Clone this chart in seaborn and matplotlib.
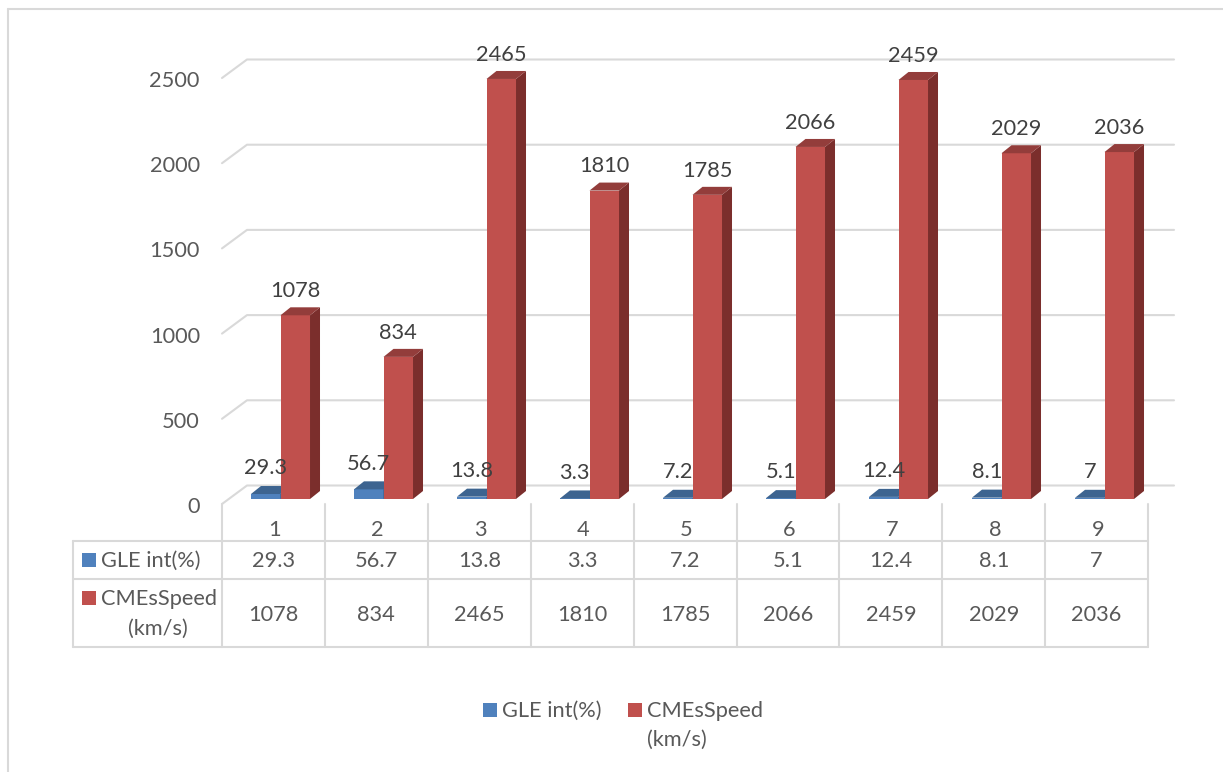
import matplotlib
matplotlib.use('Agg')
import matplotlib.pyplot as plt
import pandas as pd
import seaborn as sns
from matplotlib.lines import Line2D
from matplotlib.patches import Polygon, Rectangle
from matplotlib.transforms import Affine2D

casos = ['1', '2', '3', '4', '5', '6', '7', '8', '9']
gle_int = [29.3, 56.7, 13.8, 3.3, 7.2, 5.1, 12.4, 8.1, 7]
cme_speed = [1078, 834, 2465, 1810, 1785, 2066, 2459, 2029, 2036]
gle_txt = ['29.3', '56.7', '13.8', '3.3', '7.2', '5.1', '12.4', '8.1', '7']
yticks = [0, 500, 1000, 1500, 2000, 2500]

AZUL, AZUL_TOPO, AZUL_LADO = '#4F81BD', '#3D6490', '#355A85'
VERM, VERM_TOPO, VERM_LADO = '#C0504D', '#933D3B', '#7B2E2C'
CINZA = '#D9D9D9'
TXT = '#595959'
TXT_DADOS = '#404040'
FS = 15.7

W, H = 1223, 772
CAT = 103.0
ESC = 0.1704  # pixels por unidade no eixo y

sns.set_theme(style='white')
plt.rcParams['font.family'] = ['Lato', 'DejaVu Sans']
plt.rcParams['font.size'] = FS


def fx(x):
    return x / W


def fy(y):
    return 1 - y / H


def linha(x0, y0, x1, y1):
    fig.add_artist(Line2D([fx(x0), fx(x1)], [fy(y0), fy(y1)], color=CINZA, lw=1.5))


df = pd.DataFrame({
    'caso': casos * 2,
    'valor': gle_int + cme_speed,
    'serie': ['GLE int(%)'] * 9 + ['CMEsSpeed (km/s)'] * 9,
})

fig = plt.figure(figsize=(W / 100, H / 100), dpi=100)
# eixo: categorias de 229 a 1156 px, zero em 499 px, 2500 em 73 px
ax = fig.add_axes([fx(229), fy(499), 9 * CAT / W, 2500 * ESC / H])
sns.barplot(data=df, x='caso', y='valor', hue='serie', order=casos,
            palette=[AZUL, VERM], width=0.573, gap=0, dodge=True,
            saturation=1, legend=False, linewidth=0, ax=ax)
ax.set_xlim(-0.5, 8.5)
ax.set_ylim(0, 2500)
ax.set_xlabel('')
ax.set_ylabel('')
ax.patch.set_alpha(0)
for s in ax.spines.values():
    s.set_visible(False)

# faces laterais e de topo das barras (efeito 3D)
prof_x = 10 / CAT
prof_y = 8 / ESC
cores = [(AZUL_TOPO, AZUL_LADO), (VERM_TOPO, VERM_LADO)]
for n, cont in enumerate(ax.containers):
    topo, lado = cores[n]
    for b in cont:
        x0, x1, v = b.get_x(), b.get_x() + b.get_width(), b.get_height()
        b.set_edgecolor('none')
        b.set_zorder(3 + n)
        ax.add_patch(Polygon([(x1, 0), (x1 + prof_x, prof_y), (x1 + prof_x, v + prof_y), (x1, v)],
                             fc=lado, ec='none', clip_on=False, zorder=3 + n))
        ax.add_patch(Polygon([(x0, v), (x0 + prof_x, v + prof_y), (x1 + prof_x, v + prof_y), (x1, v)],
                             fc=topo, ec='none', clip_on=False, zorder=3 + n))

# paredes do fundo
for v in yticks:
    pts = ax.transData.transform([(-0.5, v), (8.5, v)])
    xa, ya = pts[0]
    xb = pts[1][0]
    fig.add_artist(Line2D([(xa - 7) / W, (xa + 18) / W, (xb + 18) / W],
                          [(ya - 5) / H, (ya + 13.5) / H, (ya + 13.5) / H],
                          color=CINZA, lw=1.5, zorder=0))

# rótulos dos dados
for b, txt in zip(ax.containers[0], gle_txt):
    ax.annotate(txt, (b.get_x() + b.get_width() / 2, b.get_height()), xytext=(0, 18.5),
                textcoords='offset points', ha='center', va='center',
                color=TXT_DADOS, fontsize=FS, zorder=10, annotation_clip=False)
for b, val in zip(ax.containers[1], cme_speed):
    ax.annotate(str(val), (b.get_x() + b.get_width() / 2, b.get_height()), xytext=(0, 17.5),
                textcoords='offset points', ha='center', va='center',
                color=TXT_DADOS, fontsize=FS, zorder=10, annotation_clip=False)

# eixos
ax.set_yticks(yticks)
ax.tick_params(axis='y', length=0, pad=21, labelcolor=TXT, labelsize=FS)
ax.tick_params(axis='x', length=0, pad=15, labelcolor=TXT, labelsize=FS)
desl_y = Affine2D().translate(0, -6)
desl_x = Affine2D().translate(-6.5, 0)
for lab in ax.get_yticklabels():
    lab.set_transform(lab.get_transform() + desl_y)
for lab in ax.get_xticklabels():
    lab.set_transform(lab.get_transform() + desl_x)

# tabela de dados
xs = [222 + 102.9 * i for i in range(10)]
for x in xs:
    linha(x, 504, x, 647)
linha(73, 541, xs[-1], 541)
linha(73, 579, xs[-1], 579)
linha(73, 647, xs[-1], 647)
linha(73, 541, 73, 647)
for i in range(9):
    xc = (xs[i] + xs[i + 1]) / 2
    fig.text(fx(xc), fy(561), gle_txt[i], ha='center', va='center', color=TXT, fontsize=FS)
    fig.text(fx(xc), fy(615), str(cme_speed[i]), ha='center', va='center', color=TXT, fontsize=FS)

fig.add_artist(Rectangle((fx(82), fy(567)), 14 / W, 14 / H, fc=AZUL, ec='none'))
fig.add_artist(Rectangle((fx(82), fy(605)), 14 / W, 14 / H, fc=VERM, ec='none'))
fig.text(fx(101), fy(561), 'GLE int(%)', va='center', color=TXT, fontsize=FS)
fig.text(fx(101), fy(599), 'CMEsSpeed', va='center', color=TXT, fontsize=FS)
fig.text(fx(158), fy(629), '(km/s)', ha='center', va='center', color=TXT, fontsize=FS)

# legenda
fig.add_artist(Rectangle((fx(483), fy(717)), 14 / W, 14 / H, fc=AZUL, ec='none'))
fig.add_artist(Rectangle((fx(628), fy(717)), 14 / W, 14 / H, fc=VERM, ec='none'))
fig.text(fx(502), fy(711), 'GLE int(%)', va='center', color=TXT, fontsize=FS)
fig.text(fx(647), fy(711), 'CMEsSpeed', va='center', color=TXT, fontsize=FS)
fig.text(fx(647), fy(740), '(km/s)', va='center', color=TXT, fontsize=FS)

# moldura
linha(8, 9, W, 9)
linha(8, 9, 8, H)

fig.savefig('out.png', dpi=100)
